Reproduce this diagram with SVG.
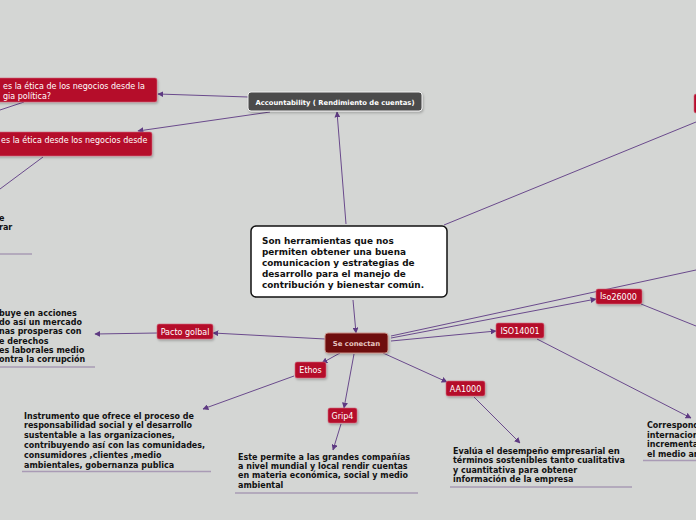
<svg xmlns="http://www.w3.org/2000/svg" width="696" height="520" viewBox="0 0 696 520">
<defs>
<marker id="ar" viewBox="0 0 10 10" refX="9" refY="5" markerWidth="6" markerHeight="6" markerUnits="userSpaceOnUse" orient="auto">
<path d="M0,0 L10,5 L0,10 z" fill="#5e3a82"/>
</marker>
<filter id="sh" x="-10%" y="-20%" width="120%" height="150%">
<feDropShadow dx="1" dy="1.5" stdDeviation="0.8" flood-color="#000" flood-opacity="0.25"/>
</filter>
</defs>
<style>
.bg{fill:#d4d6d4}
.c{stroke:#6a4a8c;stroke-width:1;fill:none}
.ca{stroke:#6a4a8c;stroke-width:1;fill:none;marker-end:url(#ar)}
.red{fill:#b50b2b;stroke:#d46a7e;stroke-width:0.6}
.rt{font-family:"DejaVu Sans",Verdana,sans-serif;font-size:8px;fill:#ffffff}
.bt{font-family:"DejaVu Sans",Verdana,sans-serif;font-size:8px;font-weight:bold;fill:#111111}
.ul{stroke:#a99bb5;stroke-width:1.5}
</style>
<rect class="bg" x="0" y="0" width="696" height="520"/>

<g id="connectors">
<path class="ca" d="M248,97 L158,94"/>
<path class="ca" d="M270,112 L138,131"/>
<path class="c" d="M24,102 L0,110"/>
<path class="c" d="M43,157 L0,189"/>
<path class="ca" d="M346,224 L337,112"/>
<path class="c" d="M444,225 L696,122"/>
<path class="ca" d="M353,300 L356,333"/>
<path class="ca" d="M325,339 L213,333"/>
<path class="ca" d="M157,333 L95,334"/>
<path class="ca" d="M340,353 L322,363"/>
<path class="ca" d="M294,376 L203,409"/>
<path class="ca" d="M354,354 L344,408"/>
<path class="ca" d="M341,424 L333,450"/>
<path class="ca" d="M383,353 L447,382"/>
<path class="ca" d="M474,397 L520,443"/>
<path class="ca" d="M391,341 L496,331"/>
<path class="ca" d="M537,339 L691,418"/>
<path class="ca" d="M391,338 L596,299"/>
<path class="c" d="M391,336 L696,270"/>
<path class="c" d="M641,304 L696,326"/>
</g>

<g id="etica-politica">
<rect class="red" x="-6" y="78" width="163" height="24" rx="2" filter="url(#sh)"/>
<text class="rt" x="3" y="89">es la ética de los negocios desde la</text>
<text class="rt" x="3" y="99">gia política?</text>
</g>

<g id="etica-negocios">
<rect class="red" x="-6" y="132" width="158" height="24" rx="2" filter="url(#sh)"/>
<text class="rt" x="1" y="143">es la ética desde los negocios desde</text>
</g>

<g id="left-top-text">
<text class="bt" x="-1" y="221">e</text>
<text class="bt" x="-1" y="230">rar</text>
<line class="ul" x1="0" y1="254" x2="32" y2="254"/>
</g>

<g id="accountability">
<rect x="248" y="92" width="174" height="19" rx="3" fill="#4b4b4b" stroke="#f0f0f0" stroke-width="1" filter="url(#sh)"/>
<text x="335" y="104.5" text-anchor="middle" font-family="'DejaVu Sans',Verdana,sans-serif" font-size="6.8" font-weight="bold" fill="#ffffff">Accountability ( Rendimiento de cuentas)</text>
</g>

<g id="right-top-node">
<rect class="red" x="694" y="94" width="10" height="19" rx="2"/>
</g>

<g id="central">
<rect x="251" y="226" width="196" height="71" rx="5" fill="#ffffff" stroke="#111111" stroke-width="1.5"/>
<g font-family="'DejaVu Sans',Verdana,sans-serif" font-size="8.9" font-weight="bold" fill="#111111">
<text x="262" y="243.5">Son herramientas que nos</text>
<text x="262" y="254.5">permiten obtener una buena</text>
<text x="262" y="265.5">comunicacion y estrategias de</text>
<text x="262" y="276.5">desarrollo para el manejo de</text>
<text x="262" y="287.5">contribución y bienestar común.</text>
</g>
</g>

<g id="se-conectan">
<rect x="325" y="333" width="63" height="20" rx="3" fill="#6e0808" stroke="#c9948a" stroke-width="1" filter="url(#sh)"/>
<text x="356.5" y="345.5" text-anchor="middle" font-family="'DejaVu Sans',Verdana,sans-serif" font-size="6.9" font-weight="bold" fill="#e6c6c0">Se conectan</text>
</g>

<g id="pacto">
<rect class="red" x="157" y="324" width="56" height="15" rx="2" filter="url(#sh)"/>
<text class="rt" x="185" y="334.5" text-anchor="middle">Pacto golbal</text>
</g>
<g id="pacto-text">
<text class="bt" x="-1" y="315.5">buye en acciones</text>
<text class="bt" x="-1" y="324.8">do así un mercado</text>
<text class="bt" x="-1" y="334.2">nas prosperas con</text>
<text class="bt" x="-1" y="343.5">e derechos</text>
<text class="bt" x="-1" y="352.8">es laborales medio</text>
<text class="bt" x="-1" y="362.2">ontra la corrupción</text>
<line class="ul" x1="0" y1="367" x2="95" y2="367"/>
</g>

<g id="ethos">
<rect class="red" x="295" y="362" width="31" height="16" rx="2" filter="url(#sh)"/>
<text class="rt" x="310.5" y="373" text-anchor="middle">Ethos</text>
</g>
<g id="ethos-text">
<text class="bt" x="24" y="418.5">Instrumento que ofrece el proceso de</text>
<text class="bt" x="24" y="428.3">responsabilidad social y el desarrollo</text>
<text class="bt" x="24" y="438.1">sustentable a las organizaciones,</text>
<text class="bt" x="24" y="447.9">contribuyendo así con las comunidades,</text>
<text class="bt" x="24" y="457.7">consumidores ,clientes ,medio</text>
<text class="bt" x="24" y="467.5">ambientales, gobernanza publica</text>
<line class="ul" x1="22" y1="471.5" x2="211" y2="471.5"/>
</g>

<g id="grip4">
<rect class="red" x="328" y="408" width="29" height="15" rx="2" filter="url(#sh)"/>
<text class="rt" x="342.5" y="418.5" text-anchor="middle">Grip4</text>
</g>
<g id="grip4-text">
<text class="bt" x="238" y="459.5">Este permite a las grandes compañías</text>
<text class="bt" x="238" y="468.8">a nivel mundial y local rendir cuentas</text>
<text class="bt" x="238" y="478.2">en materia económica, social y medio</text>
<text class="bt" x="238" y="487.5">ambiental</text>
<line class="ul" x1="235" y1="493" x2="418" y2="493"/>
</g>

<g id="aa1000">
<rect class="red" x="446" y="381" width="39" height="15" rx="2" filter="url(#sh)"/>
<text class="rt" x="465.5" y="391.5" text-anchor="middle">AA1000</text>
</g>
<g id="aa1000-text">
<text class="bt" x="453" y="453.5">Evalúa el desempeño empresarial <tspan font-size="8.5" dy="0.8">en</tspan></text>
<text class="bt" x="453" y="463">términos sostenibles tanto cualitativa</text>
<text class="bt" x="453" y="472.5">y cuantitativa para obtener</text>
<text class="bt" x="453" y="482">información de la empresa</text>
<line class="ul" x1="450" y1="487" x2="632" y2="487"/>
</g>

<g id="iso14001">
<rect class="red" x="496" y="323" width="48" height="15" rx="2" filter="url(#sh)"/>
<text class="rt" x="520" y="333.5" text-anchor="middle">ISO14001</text>
</g>
<g id="iso14001-text">
<text class="bt" x="647" y="428">Correspond</text>
<text class="bt" x="647" y="437.5">internacion</text>
<text class="bt" x="647" y="447">incrementa</text>
<text class="bt" x="647" y="456.5">el medio am</text>
<line class="ul" x1="643" y1="460.5" x2="696" y2="460.5"/>
</g>

<g id="iso26000">
<rect class="red" x="596" y="289" width="46" height="15" rx="2" filter="url(#sh)"/>
<text class="rt" x="600" y="298.5">Is<tspan dy="1.2">o26000</tspan></text>
</g>
</svg>
